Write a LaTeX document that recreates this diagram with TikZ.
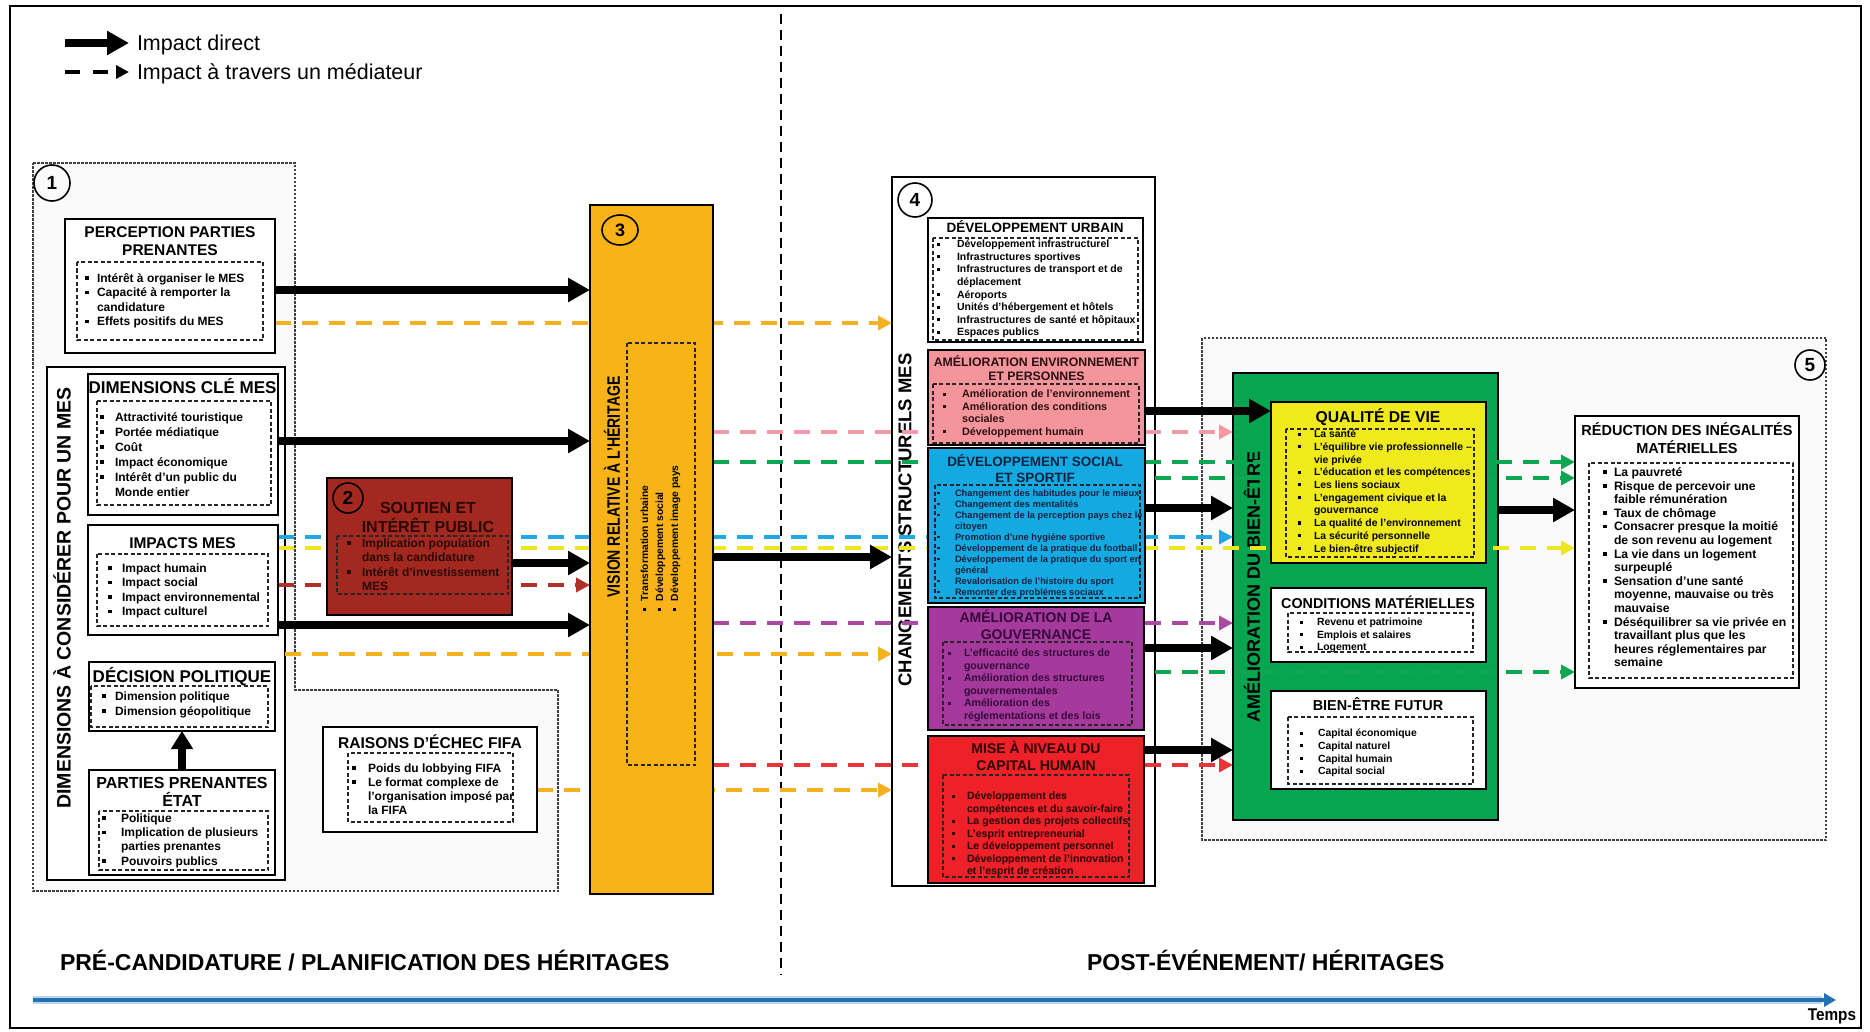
\documentclass[tikz,border=0pt]{standalone}
\usepackage{fontspec}
\setmainfont{Liberation Sans}
\usetikzlibrary{arrows.meta,shapes.geometric}
\pgfdeclarelayer{bg}
\pgfdeclarelayer{mid}
\pgfsetlayers{bg,mid,main}
\definecolor{cBrick}{HTML}{A3281F}
\definecolor{cAmber}{HTML}{F9B319}
\definecolor{cPink}{HTML}{F4959C}
\definecolor{cBlue}{HTML}{15A9E1}
\definecolor{cPurple}{HTML}{A63A9C}
\definecolor{cRed}{HTML}{EE2128}
\definecolor{cGreen}{HTML}{08A550}
\definecolor{cYellow}{HTML}{F0EA1C}
\definecolor{lOrange}{HTML}{F6B21E}
\definecolor{lPink}{HTML}{F29AA3}
\definecolor{lGreen}{HTML}{0FA653}
\definecolor{lBlue}{HTML}{1FA8E1}
\definecolor{lYellow}{HTML}{EEE624}
\definecolor{lDarkRed}{HTML}{B0302A}
\definecolor{lPurple}{HTML}{AA4AA4}
\definecolor{lRed}{HTML}{E9343B}
\definecolor{tBlue}{HTML}{2270B6}
\definecolor{txBrick}{HTML}{2A0906}
\definecolor{txNavy}{HTML}{0F2340}
\definecolor{txPurple}{HTML}{35093A}
\definecolor{txRed}{HTML}{2A0404}
\definecolor{txPink}{HTML}{2B1012}
\newlength{\bw}
\newcommand{\bul}{\makebox[\bw][l]{\raisebox{0.2em}{\rule{0.3em}{0.3em}}}}
\newcommand{\cnt}{\hspace*{\bw}}
\newcommand{\mylist}[4]{\parbox[t]{400pt}{\setlength{\bw}{#3pt}\fontsize{#1}{#2}\selectfont\bfseries\raggedright #4}}
\newcommand{\mytitle}[3]{\parbox[t]{320pt}{\centering\fontsize{#1}{#2}\selectfont\bfseries #3}}
\newcommand{\mybox}[6]{\node[#2, minimum width={(#5)-(#3)}, minimum height={(#6)-(#4)}] (#1) at (#3,#4) {};}
\begin{document}
\begin{tikzpicture}[x=1pt,y=-1pt,
  tbox/.style={draw=black, line width=2.8pt, fill=white, inner sep=0pt, outer sep=0pt, anchor=north west},
  sbox/.style={draw=black, line width=1.6pt, fill=white, inner sep=0pt, outer sep=0pt, anchor=north west},
  dbox/.style={draw=black!85, line width=1.1pt, dash pattern=on 4pt off 2.5pt},
  region/.style={draw=black!75, line width=1.1pt, dash pattern=on 2.5pt off 1.5pt, fill=black!2},
  txt/.style={inner sep=0pt, outer sep=0pt},
  lst/.style={txt, anchor=base west},
  ttl/.style={txt, anchor=base},
  num/.style={draw=black, circle, line width=1.6pt, inner sep=0pt, font=\bfseries\fontsize{19}{19}\selectfont},
  bigarr/.style={line width=7.5pt, -{Triangle[length=22pt,width=23pt]}},
  dl/.style={line width=4.5pt, dash pattern=on 16pt off 11pt},
  dla/.style={dl, -{Triangle[length=14pt,width=14pt]}},
]
\useasboundingbox (0,0) rectangle (1870,1032);
\begin{pgfonlayer}{bg}
\fill[white] (0,0) rectangle (1870,1032);
\draw[line width=2.5pt] (10,6) rectangle (1861,1028);
\coordinate (dvA) at (781,14); \coordinate (dvB) at (781,975);
\draw[line width=1.5pt, dash pattern=on 10pt off 6pt] (dvA) -- (dvB);
\draw[region] (33,163) -- (295,163) -- (295,690) -- (558,690) -- (558,891) -- (33,891) -- cycle;
\draw[region] (1202,338) rectangle (1826,840);
\mybox{dim}{tbox}{47}{367}{285}{880}
\node[txt, rotate=90] (dimT) at (62,598) {\fontsize{19.5}{20}\selectfont\bfseries DIMENSIONS À CONSIDÉRER POUR UN MES};
\mybox{chg}{tbox}{892}{177}{1155}{886}
\node[txt, rotate=90] (chgT) at (905,520) {\fontsize{18.5}{20}\selectfont\bfseries CHANGEMENTS STRUCTURELS MES};
\mybox{bien}{tbox, fill=cGreen}{1233}{373}{1498}{820}
\node[txt, rotate=90] (bienT) at (1252,587) {\fontsize{18}{20}\selectfont\bfseries AMÉLIORATION DU BIEN-ÊTRE};
\end{pgfonlayer}

% legend
\coordinate (lgA) at (65,43); \coordinate (lgB) at (129,43);
\coordinate (lgC) at (65,72); \coordinate (lgD) at (129,72);
\draw[bigarr, line width=8pt] (lgA) -- (lgB);
\draw[line width=4.5pt, dash pattern=on 15pt off 13pt, -{Triangle[length=13pt,width=13pt]}] (lgC) -- (lgD);
\node[lst, font=\mdseries] (lgT1) at (137,51) {\fontsize{21.5}{24}\selectfont Impact direct};
\node[lst, font=\mdseries] (lgT2) at (137,80) {\fontsize{21.5}{24}\selectfont Impact à travers un médiateur};

% bottom
\node[lst] (preT) at (60,970) {\fontsize{23}{26}\selectfont\bfseries PRÉ-CANDIDATURE / PLANIFICATION DES HÉRITAGES};
\node[lst] (postT) at (1087,970) {\fontsize{23}{26}\selectfont\bfseries POST-ÉVÉNEMENT/ HÉRITAGES};
\coordinate (tA) at (33,1000); \coordinate (tB) at (1836,1000); \coordinate (tC) at (1822,1000);
\draw[line width=8pt, tBlue!30] (tA) -- (tC);
\draw[line width=4.5pt, tBlue, -{Triangle[length=12pt,width=13pt]}] (tA) -- (tB);
\node[txt, anchor=base east] (temps) at (1856,1020) {\scalebox{0.9}[1]{\fontsize{17}{18}\selectfont\bfseries Temps}};

\node[num, minimum size=36pt] (c1) at (52,183) {1};
\node[num, minimum size=30pt] (c5) at (1810,365) {5};
\node[num, minimum size=34pt] (c4) at (915,200) {4};

% box 1 contents
\mybox{perc}{tbox}{65}{219}{275}{353}
\node[ttl] (percT) at (170,237.6) {\mytitle{15.5}{18}{PERCEPTION PARTIES\\PRENANTES}};
\draw[dbox] (77,262) rectangle (263,340);
\node[lst] (percL) at (85,282.3) {\mylist{12}{14.5}{12}{\bul Intérêt à organiser le MES\\ \bul Capacité à remporter la\\ \cnt candidature\\ \bul Effets positifs du MES}};

\mybox{cle}{sbox}{88}{374}{278}{515}
\node[ttl] (cleT) at (182.5,393) {\mytitle{17}{19}{DIMENSIONS CLÉ MES}};
\draw[dbox] (97,401) rectangle (271,505);
\node[lst] (cleL) at (100,421.3) {\mylist{12}{15}{15}{\bul Attractivité touristique\\ \bul Portée médiatique\\ \bul Coût\\ \bul Impact économique\\ \bul Intérêt d’un public du\\ \cnt Monde entier}};

\mybox{imp}{sbox}{88}{525}{278}{635}
\node[ttl] (impT) at (182.5,548.6) {\mytitle{15.5}{18}{IMPACTS MES}};
\draw[dbox] (97,554) rectangle (268,626);
\node[lst] (impL) at (108,572.3) {\mylist{12}{14.5}{14}{\bul Impact humain\\ \bul Impact social\\ \bul Impact environnemental\\ \bul Impact culturel}};

\mybox{dec}{sbox}{89}{662}{275}{731}
\node[ttl] (decT) at (182,682) {\mytitle{17}{19}{DÉCISION POLITIQUE}};
\draw[dbox] (91,686) rectangle (268,727);
\node[lst] (decL) at (102,700.3) {\mylist{12}{15}{13}{\bul Dimension politique\\ \bul Dimension géopolitique}};

\mybox{par}{sbox}{89}{770}{275}{875}
\node[ttl] (parT) at (182,788.8) {\mytitle{16}{18}{PARTIES PRENANTES\\ÉTAT}};
\draw[dbox] (99,811) rectangle (268,870);
\node[lst] (parL) at (102,822.3) {\mylist{12}{14.3}{19}{\bul Politique\\ \bul Implication de plusieurs\\ \cnt parties prenantes\\ \bul Pouvoirs publics}};

% box 2
\mybox{soutien}{tbox, fill=cBrick}{327}{478}{512}{615}
\node[num, minimum size=30pt] (c2) at (348,498) {2};
\node[ttl, text=txBrick] (soutT) at (428,513.8) {\mytitle{16}{19}{SOUTIEN ET\\INTÉRÊT PUBLIC}};
\draw[dbox] (337,536) rectangle (508,594);
\node[lst, text=txBrick] (soutL) at (347,547.3) {\mylist{12}{14.5}{15}{\bul Implication population\\ \cnt dans la candidature\\ \bul Intérêt d’investissement\\ \cnt MES}};

% raisons
\mybox{raisons}{tbox}{323}{727}{537}{832}
\node[ttl] (raisT) at (430,748.6) {\mytitle{15.6}{18}{RAISONS D’ÉCHEC FIFA}};
\draw[dbox] (348,753) rectangle (513,822);
\node[lst] (raisL) at (352,772.3) {\mylist{12}{14}{16}{\bul Poids du lobbying FIFA\\ \bul Le format complexe de\\ \cnt l’organisation imposé par\\ \cnt la FIFA}};

% box 3
\mybox{vision}{tbox, fill=cAmber}{590}{205}{713}{894}
\node[ellipse, draw, line width=1.6pt, minimum width=36pt, minimum height=30pt, inner sep=0pt, font=\bfseries\fontsize{18}{18}\selectfont] (c3) at (620,230) {3};
\node[txt, rotate=90] (visT) at (612,487) {\scalebox{0.78}[1]{\fontsize{18}{20}\selectfont\bfseries VISION RELATIVE À L’HÉRITAGE}};
\draw[dbox] (627,343) rectangle (695,765);
\node[lst, rotate=90] (visL) at (648,611) {\mylist{10.3}{15}{10}{\bul Transformation urbaine\\ \bul Développement social\\ \bul Développement image pays}};

% box 4 inner
\mybox{urb}{sbox}{928}{218}{1143}{342}
\node[ttl] (urbT) at (1035,232.9) {\mytitle{13.5}{15}{DÉVELOPPEMENT URBAIN}};
\draw[dbox] (933,238) rectangle (1138,340);
\node[lst] (urbL) at (937,247.8) {\mylist{10.5}{12.6}{20}{\bul Développement infrastructurel\\ \bul Infrastructures sportives\\ \bul Infrastructures de transport et de\\ \cnt déplacement\\ \bul Aéroports\\ \bul Unités d’hébergement et hôtels\\ \bul Infrastructures de santé et hôpitaux\\ \bul Espaces publics}};

\mybox{env}{sbox, fill=cPink}{928}{350}{1145}{445}
\node[ttl, text=txPink] (envT) at (1036.5,366.4) {\mytitle{12.3}{14}{AMÉLIORATION ENVIRONNEMENT\\ET PERSONNES}};
\draw[dbox] (933,384) rectangle (1139,443);
\node[lst, text=txPink] (envL) at (943,397.9) {\mylist{10.8}{12.5}{19}{\bul Amélioration de l’environnement\\ \bul Amélioration des conditions\\ \cnt sociales\\ \bul Développement humain}};

\mybox{soc}{sbox, fill=cBlue}{928}{448}{1145}{603}
\node[ttl, text=txNavy] (socT) at (1035,466.9) {\mytitle{13.5}{16}{DÉVELOPPEMENT SOCIAL\\ET SPORTIF}};
\draw[dbox] (935,485) rectangle (1140,598);
\node[lst, text=txNavy] (socL) at (937,496.3) {\mylist{9.3}{11}{18}{\bul Changement des habitudes pour le mieux\\ \bul Changement des mentalités\\ \bul Changement de la perception pays chez le\\ \cnt citoyen\\ \bul Promotion d’une hygiéne sportive\\ \bul Développement de la pratique du football\\ \bul Développement de la pratique du sport en\\ \cnt général\\ \bul Revalorisation de l’histoire du sport\\ \bul Remonter des problémes sociaux}};

\mybox{gouv}{sbox, fill=cPurple}{928}{607}{1144}{730}
\node[ttl, text=txPurple] (gouvT) at (1036,622) {\mytitle{14}{17}{AMÉLIORATION DE LA\\GOUVERNANCE}};
\draw[dbox] (943,642) rectangle (1132,725);
\node[lst, text=txPurple] (gouvL) at (948,656.8) {\mylist{10.6}{12.5}{16}{\bul L’efficacité des structures de\\ \cnt gouvernance\\ \bul Amélioration des structures\\ \cnt gouvernementales\\ \bul Amélioration des\\ \cnt réglementations et des lois}};

\mybox{mise}{sbox, fill=cRed}{928}{736}{1144}{883}
\node[ttl, text=txRed] (miseT) at (1036,753) {\mytitle{14}{17}{MISE À NIVEAU DU\\CAPITAL HUMAIN}};
\draw[dbox] (943,775) rectangle (1129,877);
\node[lst, text=txRed] (miseL) at (952,799.8) {\mylist{10.6}{12.5}{15}{\bul Développement des\\ \cnt compétences et du savoir-faire\\ \bul La gestion des projets collectifs\\ \bul L’esprit entrepreneurial\\ \bul Le développement personnel\\ \bul Développement de l’innovation\\ \cnt et l’esprit de création}};

% box 5
\mybox{qual}{sbox, fill=cYellow}{1271}{402}{1486}{563}
\node[ttl] (qualT) at (1378,422.7) {\mytitle{15.7}{18}{QUALITÉ DE VIE}};
\draw[dbox] (1286,429) rectangle (1474,557);
\node[lst] (qualL) at (1298,437.7) {\mylist{10.4}{12.7}{16}{\bul La santé\\ \bul L’équilibre vie professionnelle –\\ \cnt vie privée\\ \bul L’éducation et les compétences\\ \bul Les liens sociaux\\ \bul L’engagement civique et la\\ \cnt gouvernance\\ \bul La qualité de l’environnement\\ \bul La sécurité personnelle\\ \bul Le bien-être subjectif}};

\mybox{cond}{sbox}{1271}{588}{1486}{662}
\node[ttl] (condT) at (1378,608) {\mytitle{14.3}{16}{CONDITIONS MATÉRIELLES}};
\draw[dbox] (1288,613) rectangle (1473,652);
\node[lst] (condL) at (1300,625.7) {\mylist{10.4}{12.5}{17}{\bul Revenu et patrimoine\\ \bul Emplois et salaires\\ \bul Logement}};

\mybox{fut}{sbox}{1271}{691}{1486}{789}
\node[ttl] (futT) at (1378,710.2) {\mytitle{14.4}{16}{BIEN-ÊTRE FUTUR}};
\draw[dbox] (1288,717) rectangle (1473,784);
\node[lst] (futL) at (1300,736.7) {\mylist{10.4}{12.7}{18}{\bul Capital économique\\ \bul Capital naturel\\ \bul Capital humain\\ \bul Capital social}};

\mybox{redu}{tbox}{1575}{416}{1799}{688}
\node[ttl] (reduT) at (1687,435.2) {\mytitle{14.5}{18}{RÉDUCTION DES INÉGALITÉS\\MATÉRIELLES}};
\draw[dbox] (1589,463) rectangle (1793,678);
\node[lst] (reduL) at (1603,476.4) {\mylist{12.2}{13.6}{11}{\bul La pauvreté\\ \bul Risque de percevoir une\\ \cnt faible rémunération\\ \bul Taux de chômage\\ \bul Consacrer presque la moitié\\ \cnt de son revenu au logement\\ \bul La vie dans un logement\\ \cnt surpeuplé\\ \bul Sensation d’une santé\\ \cnt moyenne, mauvaise ou très\\ \cnt mauvaise\\ \bul Déséquilibrer sa vie privée en\\ \cnt travaillant plus que les\\ \cnt heures réglementaires par\\ \cnt semaine}};

% dashed connectors
\begin{pgfonlayer}{mid}
\draw[dla, lOrange] (perc.east |- 0,323) -- (chg.west |- 0,323);
\draw[dla, lPink] (vision.east |- 0,432) -- (bien.west |- 0,432);
\draw[dla, lGreen] (vision.east |- 0,462) -- (redu.west |- 0,462);
\draw[dla, lGreen] (chg.east |- 0,478) -- (redu.west |- 0,478);
\draw[dla, lBlue] (imp.east |- 0,537) -- (bien.west |- 0,537);
\draw[dla, lYellow] (imp.east |- 0,548) -- (redu.west |- 0,548);
\draw[dla, lDarkRed] (imp.east |- 0,585) -- (vision.west |- 0,585);
\draw[dla, lPurple] (vision.east |- 0,623) -- (bien.west |- 0,623);
\draw[dla, lOrange] (dim.east |- 0,654) -- (chg.west |- 0,654);
\draw[dla, lGreen] (chg.east |- 0,672) -- (redu.west |- 0,672);
\draw[dla, lRed] (vision.east |- 0,765) -- (bien.west |- 0,765);
\draw[dla, lOrange] (raisons.east |- 0,790) -- (chg.west |- 0,790);
\end{pgfonlayer}

% thick connectors
\draw[bigarr] (perc.east |- 0,290) -- (vision.west |- 0,290);
\draw[bigarr] (cle.east |- 0,441) -- (vision.west |- 0,441);
\draw[bigarr] (soutien.east |- 0,563) -- (vision.west |- 0,563);
\draw[bigarr] (imp.east |- 0,625) -- (vision.west |- 0,625);
\draw[bigarr] (vision.east |- 0,557) -- (chg.west |- 0,557);
\draw[bigarr] (env.east |- 0,411) -- (qual.west |- 0,411);
\draw[bigarr] (soc.east |- 0,508) -- (bien.west |- 0,508);
\draw[bigarr] (gouv.east |- 0,648) -- (bien.west |- 0,648);
\draw[bigarr] (mise.east |- 0,750) -- (bien.west |- 0,750);
\draw[bigarr] (bien.east |- 0,510) -- (redu.west |- 0,510);
\draw[bigarr, -{Triangle[length=18pt,width=21pt]}] (par.north) -- (dec.south);
\end{tikzpicture}
\end{document}
